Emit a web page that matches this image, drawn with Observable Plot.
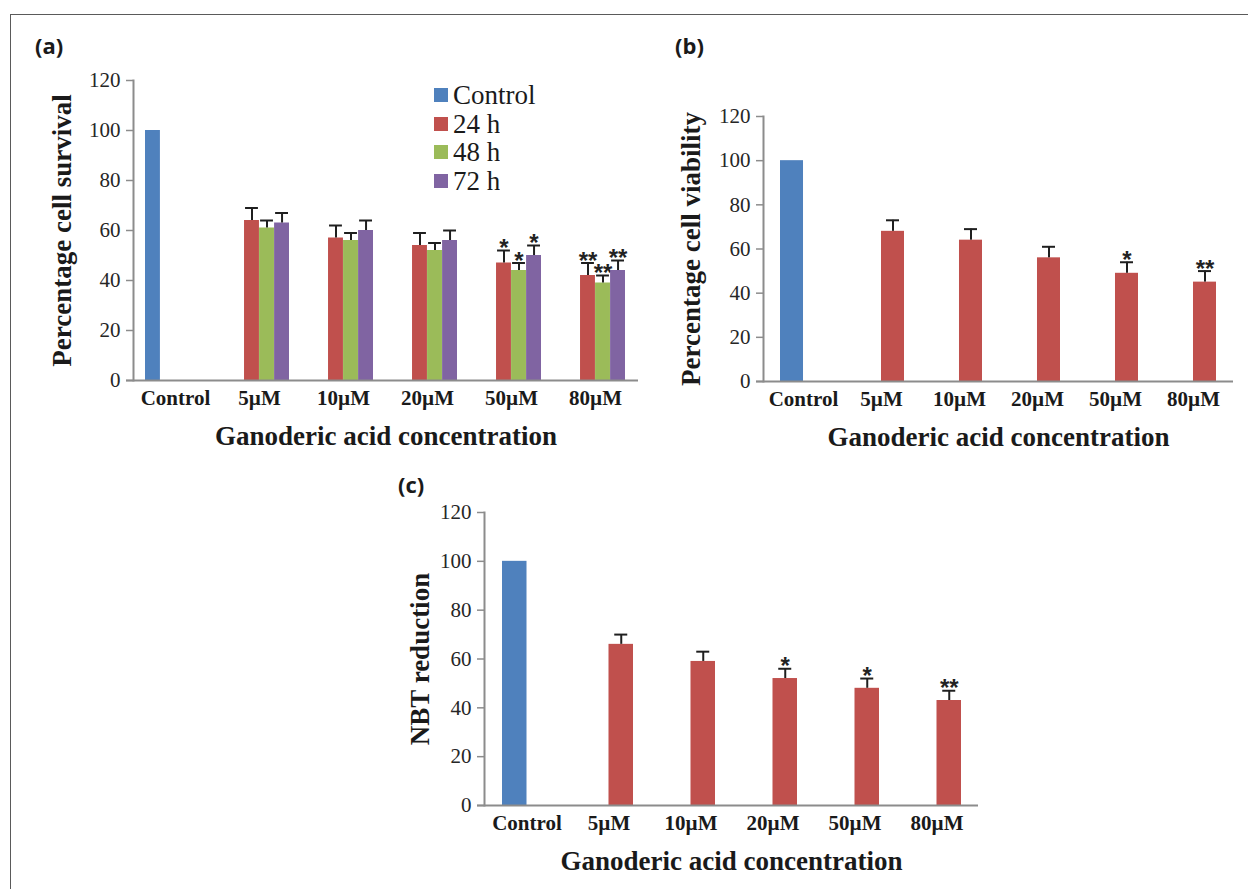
<!DOCTYPE html>
<html><head><meta charset="utf-8">
<script src="https://cdn.jsdelivr.net/npm/d3@7"></script>
<script src="https://cdn.jsdelivr.net/npm/@observablehq/plot@0.6"></script>
<style>
body{margin:0;background:#fff;}
#page{position:relative;width:1248px;height:889px;overflow:hidden;background:#fff;}
#border{position:absolute;left:10px;top:14px;width:1260px;height:900px;border-top:1.5px solid #5a5a5a;border-left:1.5px solid #5a5a5a;}
.panel{position:absolute;}
.panel g[aria-label="y-axis tick label"], .panel g[aria-label="x-axis tick label"]{font-family:"Liberation Serif", serif !important;}
.plabel{position:absolute;font-family:"Open Sans";font-weight:700;font-size:22px;line-height:1;color:#1a1a1a;}
#legA{position:absolute;left:434px;top:81px;}
#legA, #legA *{font-family:"Liberation Serif", serif !important;}
#legA svg{margin-right:5px !important;}
#legA div{line-height:28.6px;padding-bottom:0 !important;margin:0 !important;}
</style>
</head><body>
<div id="page">
  <div id="border"></div>
  <div class="plabel" style="left:35px;top:34px">(a)</div>
  <div class="plabel" style="left:675px;top:34px">(b)</div>
  <div class="plabel" style="left:398px;top:473px">(c)</div>
</div>
<script>
// ---------- data ----------
const categories = ["Control", "5µM", "10µM", "20µM", "50µM", "80µM"];
const yTicks = [0, 20, 40, 60, 80, 100, 120];
const xTitle = "Ganoderic acid concentration";

// Panel (a): cell survival
const seriesA = ["Control", "24 h", "48 h", "72 h"];
const colorsA = ["#4F81BD", "#C0504D", "#9BBB59", "#8064A2"];
const controlA = 100;
const a24 = [64, 57, 54, 47, 42];
const a24Err = [5, 5, 5, 5, 5];
const a48 = [61, 56, 52, 44, 39];
const a48Err = [3, 3, 3, 3, 3];
const a72 = [63, 60, 56, 50, 44];
const a72Err = [4, 4, 4, 4, 4];
const sigA = ["", "", "", "*", "**"];

// Panel (b): cell viability
const seriesBC = ["Control", "Treated"];
const colorsBC = ["#4F81BD", "#C0504D"];
const controlB = 100;
const bVals = [68, 64, 56, 49, 45];
const bErr = [5, 5, 5, 5, 5];
const sigB = ["", "", "", "*", "**"];

// Panel (c): NBT reduction
const controlC = 100;
const cVals = [66, 59, 52, 48, 43];
const cErr = [4, 4, 4, 4, 4];
const sigC = ["", "", "*", "*", "**"];

// ---------- build rows ----------
function rowsFor(control, seriesNames, valueLists, errLists, sigLists) {
  const rows = [{cat: categories[0], series: seriesNames[0], value: control, err: null, sig: ""}];
  valueLists.forEach((vals, s) => {
    vals.forEach((v, i) => rows.push({
      cat: categories[i + 1], series: seriesNames[s + 1], value: v,
      err: errLists[s][i], sig: sigLists[s][i]
    }));
  });
  return rows;
}

const rowsA = rowsFor(controlA, seriesA, [a24, a48, a72], [a24Err, a48Err, a72Err], [sigA, sigA, sigA]);
const rowsB = rowsFor(controlB, seriesBC, [bVals], [bErr], [sigB]);
const rowsC = rowsFor(controlC, seriesBC, [cVals], [cErr], [sigC]);

const serif = "'Liberation Serif', serif";

function makePanel({rows, series, colors, left, top, width, height, ml, mr, mt, mb, padding, yTitle, yTitleDx, capW}) {
  const n = series.length;
  const step = (width - ml - mr) / categories.length;
  const bw = step * (1 - padding);
  const slot = bw / n;
  const capInset = (slot - capW) / 2;
  const marks = [];
  series.forEach((s, k) => {
    const data = rows.filter(d => d.series === s);
    const withErr = data.filter(d => d.err != null);
    const dx = (k + 0.5) * slot - bw / 2;
    marks.push(Plot.barY(data, {x: "cat", y: "value", fill: "series", insetLeft: k * slot, insetRight: (n - 1 - k) * slot}));
    marks.push(Plot.ruleX(withErr, {x: "cat", y1: "value", y2: d => d.value + d.err, dx, stroke: "#1f1f1f", strokeWidth: 2}));
    marks.push(Plot.tickY(withErr, {x: "cat", y: d => d.value + d.err, insetLeft: k * slot + capInset, insetRight: (n - 1 - k) * slot + capInset, stroke: "#1f1f1f", strokeWidth: 2}));
    marks.push(Plot.text(withErr.filter(d => d.sig), {x: "cat", y: d => d.value + d.err, text: "sig", dx, dy: -2, lineAnchor: "middle", fontSize: 24, fontWeight: "bold", fontFamily: "'Liberation Sans', Arial, sans-serif", fill: "#222"}));
  });
  marks.push(Plot.frame({anchor: "left", stroke: "#8c8c8c", strokeWidth: 2}));
  marks.push(Plot.ruleY([0], {stroke: "#8c8c8c", strokeWidth: 2, insetLeft: -7}));
  marks.push(Plot.axisY({ticks: yTicks, tickSize: 7, tickPadding: 6, stroke: "#8c8c8c", strokeWidth: 1.5, fill: "#262626", fontSize: 21, fontFamily: serif, label: null}));
  marks.push(Plot.axisX({tickSize: 0, tickPadding: 10, fill: "#1a1a1a", fontSize: 21, fontWeight: "bold", fontFamily: serif, label: null}));
  marks.push(Plot.text([yTitle], {frameAnchor: "left", rotate: -90, dx: yTitleDx, textAnchor: "middle", lineAnchor: "middle", fontSize: 27, fontWeight: "bold", fontFamily: serif, fill: "#1a1a1a"}));
  marks.push(Plot.text([xTitle], {frameAnchor: "bottom", dy: 56, textAnchor: "middle", lineAnchor: "middle", fontSize: 27, fontWeight: "bold", fontFamily: serif, fill: "#1a1a1a"}));

  const chart = Plot.plot({
    width, height, marginLeft: ml, marginRight: mr, marginTop: mt, marginBottom: mb,
    style: {fontFamily: serif, background: "transparent", overflow: "visible"},
    x: {domain: categories, paddingInner: padding, paddingOuter: padding / 2, axis: null},
    y: {domain: [0, 120], axis: null},
    color: {domain: series, range: colors},
    marks
  });
  const wrap = document.createElement("div");
  wrap.className = "panel";
  wrap.style.left = left + "px";
  wrap.style.top = top + "px";
  wrap.appendChild(chart);
  document.getElementById("page").appendChild(wrap);
}

makePanel({rows: rowsA, series: seriesA, colors: colorsA, left: 20, top: 0, width: 620, height: 460,
  ml: 113, mr: 2, mt: 80, mb: 80, padding: 0.2857, yTitle: "Percentage cell survival", yTitleDx: -71, capW: 13});
makePanel({rows: rowsB, series: seriesBC, colors: colorsBC, left: 640, top: 0, width: 608, height: 460,
  ml: 123, mr: 15, mt: 116, mb: 79, padding: 0.413, yTitle: "Percentage cell viability", yTitleDx: -72, capW: 13});
makePanel({rows: rowsC, series: seriesBC, colors: colorsBC, left: 380, top: 460, width: 620, height: 429,
  ml: 104, mr: 22, mt: 52, mb: 84, padding: 0.405, yTitle: "NBT reduction", yTitleDx: -64, capW: 13});

// legend for panel (a)
const leg = Plot.legend({color: {domain: seriesA, range: colorsA}, legend: "swatches", columns: 1, swatchSize: 14,
  style: {fontFamily: serif, fontSize: "27px", color: "#1a1a1a", margin: 0}});
const legWrap = document.createElement("div");
legWrap.id = "legA";
legWrap.appendChild(leg);
document.getElementById("page").appendChild(legWrap);
</script>
</body></html>
